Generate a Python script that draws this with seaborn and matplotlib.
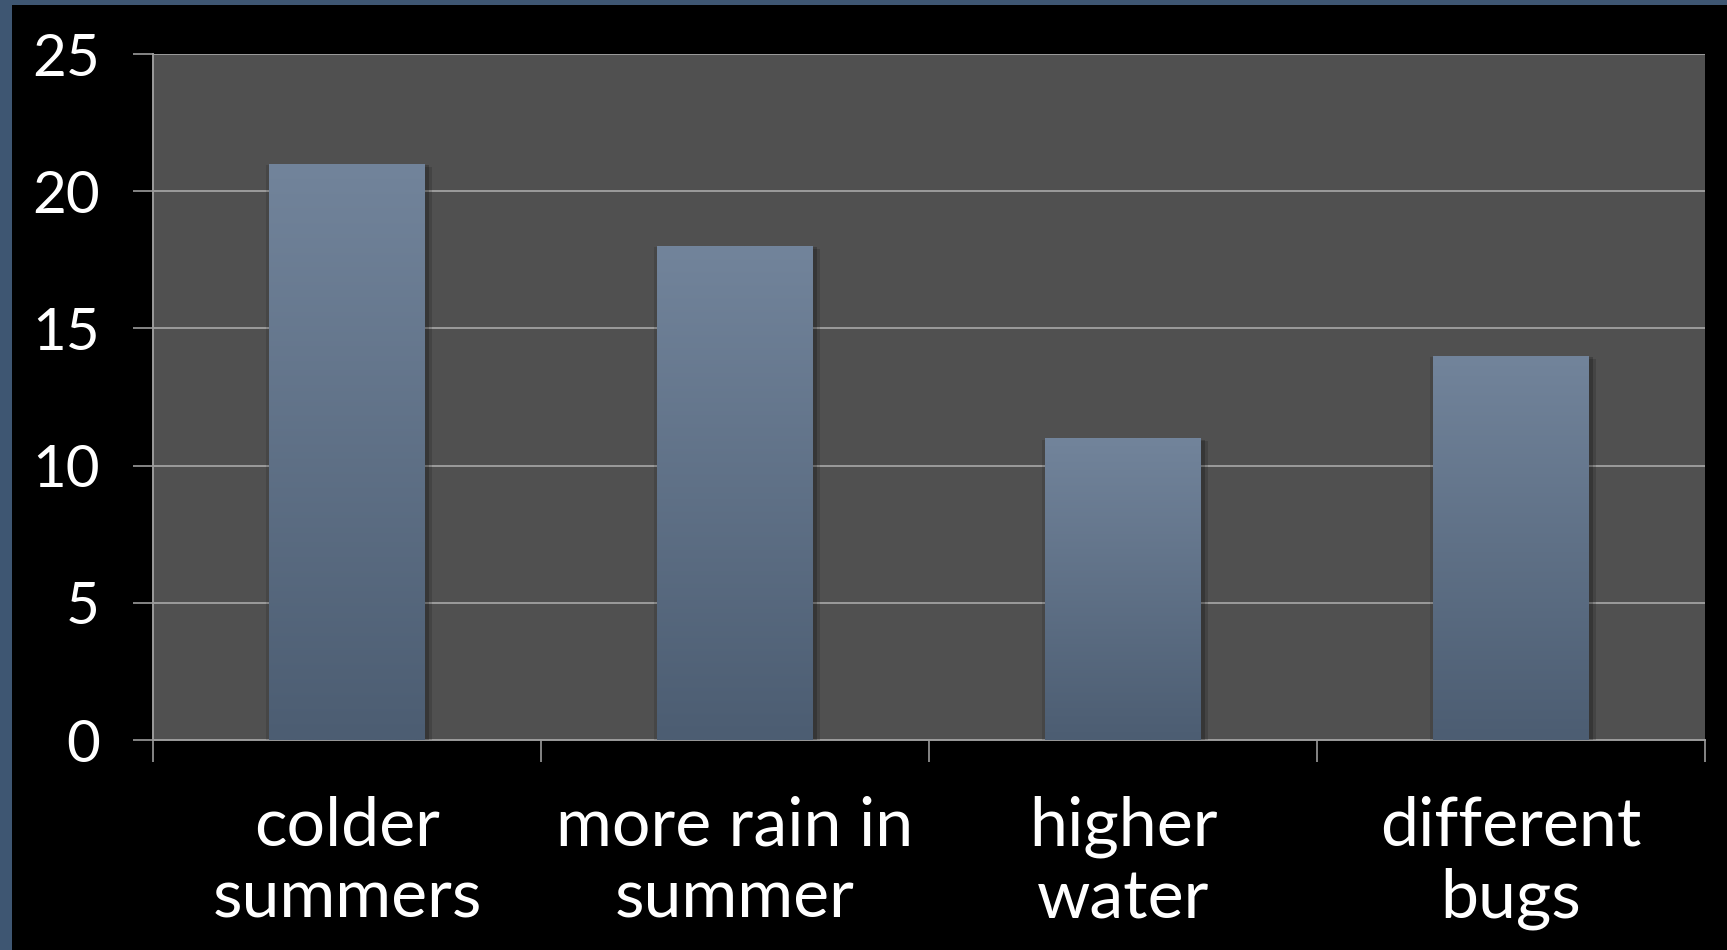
import numpy as np
import pandas as pd
import matplotlib
matplotlib.use("Agg")
import matplotlib.pyplot as plt
import matplotlib.patheffects as pe
from matplotlib.patches import Rectangle
from matplotlib.colors import LinearSegmentedColormap
from matplotlib.ticker import FixedLocator
import seaborn as sns

# Chart data
categories = ["colder\nsummers", "more rain in\nsummer", "higher\nwater", "different\nbugs"]
values = [21, 18, 11, 14]
y_ticks = [0, 5, 10, 15, 20, 25]

df = pd.DataFrame({"category": categories, "value": values})

sns.set_theme(style="dark")
plt.rcParams["font.family"] = ["Lato", "DejaVu Sans"]

W, H = 1727, 950
fig = plt.figure(figsize=(W / 100, H / 100), dpi=100)
fig.patch.set_facecolor("#3e5672")

# black slide area, leaving a thin blue frame on the top and left
fig.add_artist(Rectangle((12 / W, 0), 1, 1 - 5 / H, transform=fig.transFigure,
                         facecolor="black", edgecolor="none", zorder=0))

ax = fig.add_axes([153 / W, 1 - 740 / H, (1705 - 153) / W, (740 - 54) / H])
ax.set_facecolor("#505050")

sns.barplot(data=df, x="category", y="value", color="#5f7189", width=0.402,
            saturation=1, linewidth=0, edgecolor="none", ax=ax, zorder=3)

# vertical gradient on each bar with a soft drop shadow
cmap = LinearSegmentedColormap.from_list("bar", ["#4c5d72", "#72849b"])
grad = np.linspace(0, 1, 256).reshape(-1, 1)
for p in ax.patches:
    x0, y0 = p.get_x(), p.get_y()
    w, h = p.get_width(), p.get_height()
    p.set_path_effects([pe.SimplePatchShadow(offset=(5, -2), shadow_rgbFace="black", alpha=0.15),
                        pe.SimplePatchShadow(offset=(3, -1), shadow_rgbFace="black", alpha=0.2),
                        pe.SimplePatchShadow(offset=(-2, -1), shadow_rgbFace="black", alpha=0.12),
                        pe.Normal()])
    im = ax.imshow(grad, cmap=cmap, origin="lower", aspect="auto",
                   extent=[x0, x0 + w, y0, y0 + h], zorder=4)
    im.set_clip_path(p)

ax.set_xlim(-0.5, len(categories) - 0.5)
ax.set_ylim(0, 25)

grid_c = "#9c9c9c"
ax.set_yticks(y_ticks)
ax.yaxis.grid(True, color=grid_c, linewidth=1.4, zorder=1)
ax.xaxis.grid(False)
ax.set_axisbelow(True)

for side in ["top", "right"]:
    ax.spines[side].set_visible(False)
for side in ["left", "bottom"]:
    ax.spines[side].set_visible(True)
    ax.spines[side].set_color(grid_c)
    ax.spines[side].set_linewidth(1.4)

ax.set_xlabel("")
ax.set_ylabel("")

ax.tick_params(axis="y", length=14.4, width=1.2, color=grid_c, pad=24,
               labelsize=42, labelcolor="white", left=True)

ax.set_xticks(range(len(categories)))
ax.set_xticklabels(categories, linespacing=1.2, color="white", fontsize=49)
ax.tick_params(axis="x", which="major", length=0, pad=40)
ax.xaxis.set_minor_locator(FixedLocator(np.arange(-0.5, len(categories), 1.0)))
ax.tick_params(axis="x", which="minor", length=16, width=1.2, color=grid_c, bottom=True)

fig.savefig("out.png", dpi=100, facecolor=fig.get_facecolor())
